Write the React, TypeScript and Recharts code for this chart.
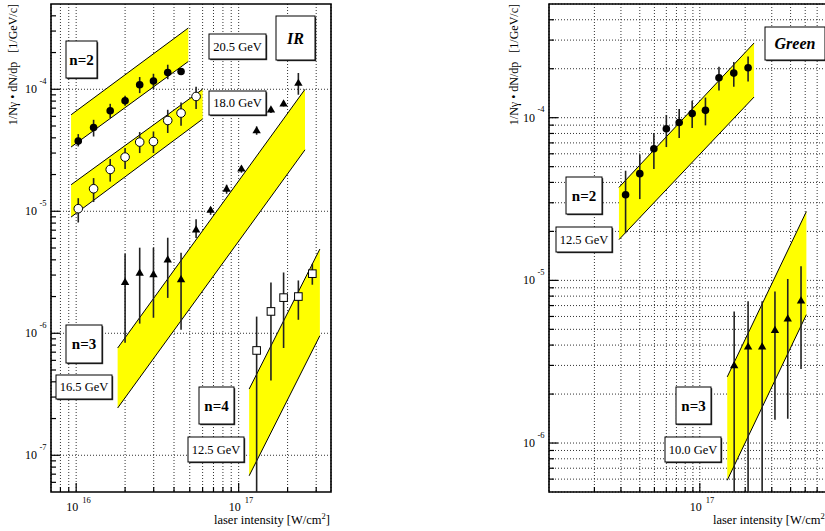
import React from 'react'
import { ComposedChart, XAxis, YAxis, CartesianGrid, Scatter, Area, ErrorBar, ReferenceArea } from 'recharts'

const FONT = '"Liberation Serif", "DejaVu Serif", "Times New Roman", serif'

// ---- IR panel (left) ----
// n=2, 20.5 GeV (filled circles)
const irN2X = [1.03e16, 1.28e16, 1.62e16, 2.0e16, 2.46e16, 2.99e16, 3.66e16, 4.42e16]
const irN2Y = [3.76e-5, 4.86e-5, 6.66e-5, 8.05e-5, 1.09e-4, 1.17e-4, 1.37e-4, 1.4e-4]
const irN2Lo = [3.4e-5, 4.1e-5, 5.81e-5, 7.33e-5, 9.3e-5, 1.0e-4, 1.21e-4, 1.32e-4]
const irN2Hi = [4.29e-5, 5.62e-5, 7.6e-5, 8.85e-5, 1.26e-4, 1.34e-4, 1.59e-4, 1.49e-4]

// n=2, 18.0 GeV (open circles)
const ir18X = [1.03e16, 1.28e16, 1.62e16, 2.0e16, 2.46e16, 2.99e16, 3.66e16, 4.42e16, 5.47e16]
const ir18Y = [1.05e-5, 1.53e-5, 2.2e-5, 2.78e-5, 3.69e-5, 3.73e-5, 5.55e-5, 6.38e-5, 8.73e-5]
const ir18Lo = [8.09e-6, 1.19e-5, 1.75e-5, 2.22e-5, 3.0e-5, 3.0e-5, 4.38e-5, 5.02e-5, 6.89e-5]
const ir18Hi = [1.28e-5, 1.87e-5, 2.68e-5, 3.3e-5, 4.46e-5, 4.51e-5, 6.79e-5, 7.8e-5, 1.05e-4]

// n=3, 16.5 GeV (triangles)
const irN3X = [2.0e16, 2.46e16, 2.99e16, 3.66e16, 4.42e16, 5.47e16, 6.72e16, 8.43e16, 1.04e17, 1.29e17, 1.58e17, 1.89e17, 2.33e17]
const irN3Y = [2.61e-6, 3.11e-6, 3.03e-6, 4.0e-6, 2.75e-6, 7.05e-6, 1.02e-5, 1.52e-5, 2.22e-5, 4.57e-5, 6.79e-5, 7.6e-5, 1.12e-4]
const irN3Lo = [8.36e-7, 1.2e-6, 1.34e-6, 1.95e-6, 1.07e-6, 6.03e-6, 9.35e-6, 1.39e-5, 2.07e-5, 4.24e-5, 6.38e-5, 7.23e-5, 9.02e-5]
const irN3Hi = [4.49e-6, 5.03e-6, 5.03e-6, 6.07e-6, 4.57e-6, 8.59e-6, 1.08e-5, 1.65e-5, 2.36e-5, 4.96e-5, 7.14e-5, 7.94e-5, 1.36e-4]

// n=4, 12.5 GeV (open squares); first bar runs down to the frame
const irN4X = [1.29e17, 1.58e17, 1.89e17, 2.33e17, 2.84e17]
const irN4Y = [7.23e-7, 1.51e-6, 1.96e-6, 2.0e-6, 3.08e-6]
const irN4Lo = [5e-8, 4.1e-7, 7.57e-7, 1.29e-6, 2.5e-6]
const irN4Hi = [1.37e-6, 2.61e-6, 3.15e-6, 2.71e-6, 3.71e-6]

// expectation bands (yellow)
const irBandAX = [9.3e15, 4.9e16]
const irBandALo = [3.36e-5, 1.69e-4]
const irBandAHi = [6.18e-5, 3.18e-4]
const irBandBX = [9.3e15, 6.0e16]
const irBandBLo = [8.96e-6, 5.7e-5]
const irBandBHi = [1.65e-5, 1.0e-4]
const irBandCX = [1.8e16, 2.56e17]
const irBandCLo = [2.44e-7, 3.19e-5]
const irBandCHi = [7.57e-7, 1.0e-4]
const irBandDX = [1.16e17, 3.16e17]
const irBandDLo = [6.79e-8, 9.55e-7]
const irBandDHi = [3.49e-7, 4.9e-6]

// ---- Green panel (right) ----
const grN2X = [3.22e16, 4.0e16, 4.96e16, 6.0e16, 7.3e16, 8.9e16, 1.09e17, 1.34e17, 1.68e17, 2.09e17]
const grN2Y = [3.36e-5, 4.53e-5, 6.45e-5, 8.55e-5, 9.35e-5, 1.06e-4, 1.11e-4, 1.76e-4, 1.88e-4, 2.03e-4]
const grN2Lo = [1.95e-5, 3.16e-5, 4.84e-5, 6.6e-5, 7.5e-5, 8.65e-5, 8.97e-5, 1.47e-4, 1.55e-4, 1.67e-4]
const grN2Hi = [4.72e-5, 5.93e-5, 8.05e-5, 1.04e-4, 1.13e-4, 1.27e-4, 1.33e-4, 2.06e-4, 2.2e-4, 2.38e-4]

// first three bars run down to the frame
const grN3X = [1.69e17, 2.09e17, 2.59e17, 3.15e17, 3.83e17, 4.69e17]
const grN3Y = [2.99e-6, 3.9e-6, 3.9e-6, 4.93e-6, 5.8e-6, 7.47e-6]
const grN3Lo = [5e-7, 5e-7, 5e-7, 1.39e-6, 1.41e-6, 2.85e-6]
const grN3Hi = [6.44e-6, 7.43e-6, 7.43e-6, 8.55e-6, 1.02e-5, 1.22e-5]

const grBandAX = [2.91e16, 2.29e17]
const grBandALo = [1.78e-5, 1.34e-4]
const grBandAHi = [3.73e-5, 2.88e-4]
const grBandBX = [1.52e17, 5.09e17]
const grBandBLo = [5.9e-7, 6.15e-6]
const grBandBHi = [2.55e-6, 2.65e-5]

// axis ranges and tick values
const irXDomain = [7e15, 3.7e17]
const irYDomain = [5e-8, 5e-4]
const grXDomain = [1e16, 7.3e17]
const grYDomain = [5e-7, 5e-4]
const mantissas = [1, 2, 3, 4, 5, 6, 7, 8, 9]
const logTicks = (decades: number[], lo: number, hi: number) =>
  decades.flatMap((d) => mantissas.map((m) => m * Math.pow(10, d))).filter((v) => v > lo * 1.0001 && v < hi * 0.9999)
const irXTicks = logTicks([15, 16, 17], 7e15, 3.7e17)
const irYTicks = logTicks([-8, -7, -6, -5, -4], 5e-8, 5e-4)
const irYGrid = [1e-7, 1e-6, 1e-5, 1e-4]
const grXTicks = logTicks([16, 17], 1e16, 7.3e17)
const grYTicks = logTicks([-7, -6, -5, -4], 5e-7, 5e-4)

const points = (xs: number[], ys: number[], lo: number[], hi: number[]) =>
  xs.map((x, i) => ({ x, y: ys[i], err: [ys[i] - lo[i], hi[i] - ys[i]] }))
const band = (xs: number[], lo: number[], hi: number[]) => xs.map((x, i) => ({ x, lo: lo[i], hi: hi[i] }))

const isDecade = (v: number) => {
  const l = Math.log10(v)
  return Math.abs(l - Math.round(l)) < 1e-6
}

function YTick(props: any) {
  const { x, y, payload } = props
  const major = isDecade(payload.value)
  return (
    <g>
      <line x1={x} x2={x + (major ? 9 : 5)} y1={y} y2={y} stroke="#000" strokeWidth={1.2} />
      {major && (
        <g fontFamily={FONT} fill="#000">
          <text x={x - 14} y={y + 4} fontSize={12} textAnchor="end">10</text>
          <text x={x - 11.5} y={y - 5.5} fontSize={8.5}>{Math.round(Math.log10(payload.value))}</text>
        </g>
      )}
    </g>
  )
}

function XTick(props: any) {
  const { x, y, payload } = props
  const major = isDecade(payload.value)
  return (
    <g>
      <line x1={x} x2={x} y1={y} y2={y - (major ? 9 : 5)} stroke="#000" strokeWidth={1.2} />
      {major && (
        <g fontFamily={FONT} fill="#000">
          <text x={x + 2} y={y + 18.5} fontSize={12} textAnchor="end">10</text>
          <text x={x + 6} y={y + 10.5} fontSize={8.5}>{Math.round(Math.log10(payload.value))}</text>
        </g>
      )}
    </g>
  )
}

const FilledCircle = (p: any) => <circle cx={p.cx} cy={p.cy} r={3.8} fill="#000" />
const OpenCircle = (p: any) => <circle cx={p.cx} cy={p.cy} r={4.3} fill="#fff" stroke="#000" strokeWidth={1} />
const FilledTriangle = (p: any) => (
  <path d={`M${p.cx},${p.cy - 4.6}L${p.cx + 4.2},${p.cy + 2.6}L${p.cx - 4.2},${p.cy + 2.6}Z`} fill="#000" />
)
const OpenSquare = (p: any) => (
  <rect x={p.cx - 3.8} y={p.cy - 3.8} width={7.6} height={7.6} fill="#fff" stroke="#000" strokeWidth={1} />
)

const Band = ({ data }: { data: any[] }) => (
  <Area
    data={data}
    dataKey={(d: any) => [d.lo, d.hi]}
    type="linear"
    fill="#ffff00"
    fillOpacity={1}
    stroke="#000"
    strokeWidth={1}
    dot={false}
    activeDot={false}
    isAnimationActive={false}
  />
)

function Series({ data, shape }: { data: any[]; shape: any }) {
  return (
    <Scatter data={data} dataKey="y" shape={shape} isAnimationActive={false}>
      <ErrorBar dataKey="err" direction="y" width={0} stroke="#222" strokeWidth={1.6} />
    </Scatter>
  )
}

function Panel(props: {
  xDomain: number[]
  yDomain: number[]
  xTicks: number[]
  yTicks: number[]
  yGrid?: number[]
  yAxisWidth: number
  width: number
  children: React.ReactNode
}) {
  const { xDomain, yDomain, xTicks, yTicks, yGrid, yAxisWidth, width, children } = props
  return (
    <ComposedChart width={width} height={531} margin={{ top: 4, right: 10, bottom: 0, left: 0 }}>
      <CartesianGrid stroke="#333" strokeDasharray="1 2" strokeWidth={1} horizontalValues={yGrid} />
      <XAxis
        type="number"
        dataKey="x"
        scale="log"
        domain={xDomain}
        allowDataOverflow
        ticks={xTicks}
        interval={0}
        tickSize={0}
        tickMargin={0}
        axisLine={false}
        height={39}
        tick={(p: any) => <XTick {...p} />}
      />
      <YAxis
        type="number"
        scale="log"
        domain={yDomain}
        allowDataOverflow
        ticks={yTicks}
        interval={0}
        tickSize={0}
        tickMargin={0}
        axisLine={false}
        width={yAxisWidth}
        tick={(p: any) => <YTick {...p} />}
      />
      {children}
      <ReferenceArea x1={xDomain[0]} x2={xDomain[1]} y1={yDomain[0]} y2={yDomain[1]} fill="none" stroke="#000" strokeWidth={1.6} />
    </ComposedChart>
  )
}

function Box({ x, y, w, h, text, size = 12, bold = false, italic = false }: any) {
  return (
    <g>
      <rect x={x + 1.2} y={y + 1.2} width={w} height={h} fill="#333" />
      <rect x={x} y={y} width={w} height={h} fill="#fff" stroke="#000" strokeWidth={1} />
      <text
        x={x + w / 2}
        y={y + h / 2 + size * 0.35}
        textAnchor="middle"
        fontSize={size}
        fontWeight={bold ? 'bold' : 'normal'}
        fontStyle={italic ? 'italic' : 'normal'}
        fontFamily={FONT}
        fill="#000"
      >
        {text}
      </text>
    </g>
  )
}

const yTitle = '1/Nγ • dN/dp   [1/GeV/c]'

export default function App() {
  return (
    <div style={{ position: 'absolute', left: 0, top: 0, width: 825, height: 531, overflow: 'hidden', background: '#fff' }}>
      <div style={{ position: 'absolute', left: 0, top: 0 }}>
        <Panel xDomain={irXDomain} yDomain={irYDomain} xTicks={irXTicks} yTicks={irYTicks} yGrid={irYGrid} yAxisWidth={51} width={341}>
          {Band({ data: band(irBandAX, irBandALo, irBandAHi) })}
          {Band({ data: band(irBandBX, irBandBLo, irBandBHi) })}
          {Band({ data: band(irBandCX, irBandCLo, irBandCHi) })}
          {Band({ data: band(irBandDX, irBandDLo, irBandDHi) })}
          {Series({ data: points(irN2X, irN2Y, irN2Lo, irN2Hi), shape: FilledCircle })}
          {Series({ data: points(ir18X, ir18Y, ir18Lo, ir18Hi), shape: OpenCircle })}
          {Series({ data: points(irN3X, irN3Y, irN3Lo, irN3Hi), shape: FilledTriangle })}
          {Series({ data: points(irN4X, irN4Y, irN4Lo, irN4Hi), shape: OpenSquare })}
        </Panel>
      </div>
      <div style={{ position: 'absolute', left: 500, top: 0 }}>
        <Panel xDomain={grXDomain} yDomain={grYDomain} xTicks={grXTicks} yTicks={grYTicks} yAxisWidth={49} width={340}>
          {Band({ data: band(grBandAX, grBandALo, grBandAHi) })}
          {Band({ data: band(grBandBX, grBandBLo, grBandBHi) })}
          {Series({ data: points(grN2X, grN2Y, grN2Lo, grN2Hi), shape: FilledCircle })}
          {Series({ data: points(grN3X, grN3Y, grN3Lo, grN3Hi), shape: FilledTriangle })}
        </Panel>
      </div>
      <svg width={825} height={531} style={{ position: 'absolute', left: 0, top: 0, pointerEvents: 'none' }}>
        <g fontFamily={FONT} fill="#000">
          <text transform="translate(17,4) rotate(-90)" textAnchor="end" fontSize={12} style={{ whiteSpace: 'pre' }}>{yTitle}</text>
          <text transform="translate(518,4) rotate(-90)" textAnchor="end" fontSize={12} style={{ whiteSpace: 'pre' }}>{yTitle}</text>
          <text x={330} y={524} textAnchor="end" fontSize={12.5}>
            laser intensity [W/cm<tspan fontSize={8.5} dy={-5}>2</tspan><tspan dy={5}>]</tspan>
          </text>
          <text x={829} y={524} textAnchor="end" fontSize={12.5}>
            laser intensity [W/cm<tspan fontSize={8.5} dy={-5}>2</tspan><tspan dy={5}>]</tspan>
          </text>
        </g>
        <Box x={66} y={41} w={31} h={37} text="n=2" size={15} bold />
        <Box x={209} y={34} w={57} h={25} text="20.5 GeV" size={12.5} />
        <Box x={276} y={16} w={39} h={44} text="IR" size={16} bold italic />
        <Box x={209} y={91} w={57} h={24} text="18.0 GeV" size={12.5} />
        <Box x={66} y={325} w={36} h={38} text="n=3" size={15} bold />
        <Box x={56} y={375} w={56} h={24} text="16.5 GeV" size={12.5} />
        <Box x={199} y={387} w={35} h={37} text="n=4" size={15} bold />
        <Box x={188} y={437} w={56} h={25} text="12.5 GeV" size={12.5} />
        <Box x={765} y={27} w={60} h={33} text="Green" size={16} bold italic />
        <Box x={566} y={177} w={36} h={37} text="n=2" size={15} bold />
        <Box x={556} y={227} w={56} h={25} text="12.5 GeV" size={12.5} />
        <Box x={676} y={387} w={35} h={37} text="n=3" size={15} bold />
        <Box x={665} y={437} w={56} h={25} text="10.0 GeV" size={12.5} />
      </svg>
    </div>
  )
}
